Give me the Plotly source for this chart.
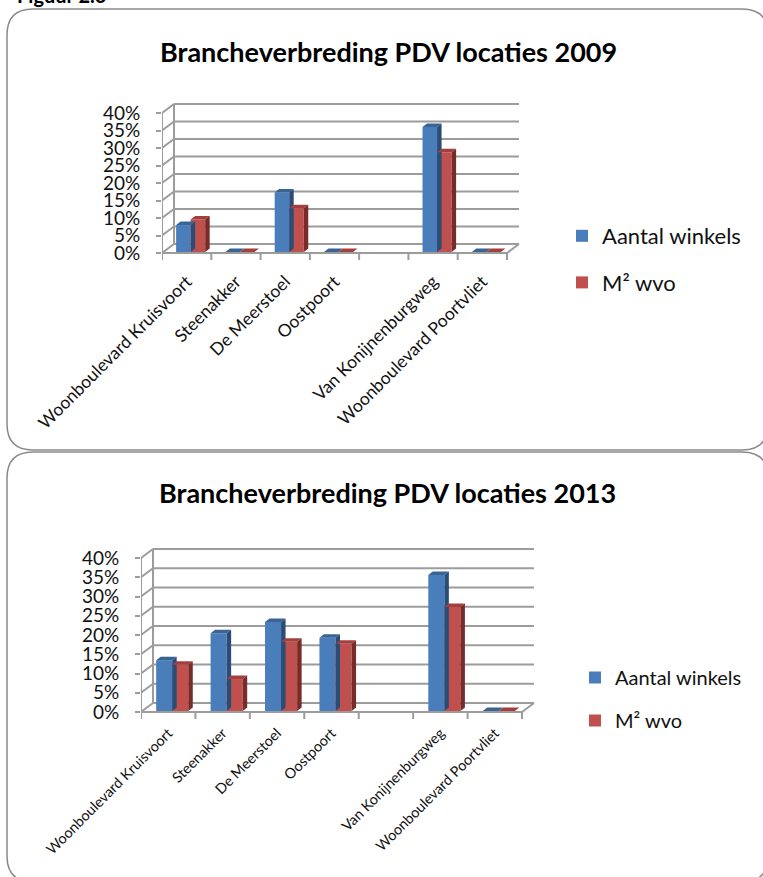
import plotly.graph_objects as go

categories = ["Woonboulevard Kruisvoort", "Steenakker", "De Meerstoel", "Oostpoort", " ",
              "Van Konijnenburgweg", "Woonboulevard Poortvliet"]
yticks = [0, 5, 10, 15, 20, 25, 30, 35, 40]
series_names = ["Aantal winkels", "M² wvo"]
winkels_2009 = [7.7, 0, 17, 0, None, 35.7, 0]
wvo_2009 = [9.3, 0, 12.5, 0, None, 28.5, 0]
winkels_2013 = [13.2, 20.2, 23.1, 19, None, 35.3, 0]
wvo_2013 = [12, 8.3, 18, 17.5, None, 27, 0]
titles = ["Brancheverbreding PDV locaties 2009", "Brancheverbreding PDV locaties 2013"]

W, H = 763, 877
FONT = "Lato"
BLUE, BLUE_D, BLUE_T = "#4a7ebb", "#2a4d78", "#3a6494"
RED, RED_D, RED_T = "#c0504d", "#772c2a", "#a3403d"
GRID = "#9c9c9c"
FRAME = "#8a8a8a"

fig = go.Figure()
shapes, annotations = [], []


def panel(n, data, x0, x1, y0, y40, title, title_y, tick_size, label_size, label_off, legend_name, legend_x,
          legend_y, legend_size, gap):
    sfx = "" if n == 1 else str(n)
    dxp, dyp = 12, 9
    slot = (x1 - x0) / 7
    ppu = (y0 - y40) / 40
    back_dx = dxp / slot
    back_dy = dyp / ppu
    stub = 7 / ppu
    bottom = y0 + 7
    top = y40 - dyp - 1
    right = x1 + dxp + 1
    xr = [0, (right - x0) / slot]
    yr = [-stub, (y0 - top) / ppu]
    fig.update_layout({
        f"xaxis{sfx}": dict(domain=[x0 / W, right / W], range=xr, anchor=f"y{sfx}", showgrid=False, zeroline=False,
                            showline=False, tickmode="array", tickvals=[i + 0.5 for i in range(7)],
                            ticktext=categories, tickangle=-45, ticks="", automargin=False,
                            ticklabelstandoff=label_off,
                            tickfont=dict(family=FONT, size=label_size, color="#111")),
        f"yaxis{sfx}": dict(domain=[1 - bottom / H, 1 - top / H], range=yr, anchor=f"x{sfx}", showgrid=False,
                            zeroline=False, showline=False, tickmode="array", tickvals=yticks,
                            ticktext=[f"{v}%" for v in yticks], automargin=False, ticklabelstandoff=12,
                            ticks="outside", ticklen=5, tickcolor=GRID, tickwidth=2,
                            tickfont=dict(family=FONT, size=tick_size, color="#111")),
    })
    xa, ya = f"x{sfx}", f"y{sfx}"

    def seg(a, b, c, d):
        shapes.append(dict(type="line", xref=xa, yref=ya, x0=a, y0=b, x1=c, y1=d, layer="below",
                           line=dict(color=GRID, width=2)))

    for v in yticks:
        seg(back_dx, v + back_dy, 7 + back_dx, v + back_dy)
        seg(0, v, back_dx, v + back_dy)
    seg(0, 0, 0, 40)
    seg(back_dx, back_dy, back_dx, 40 + back_dy)
    seg(0, 0, 7, 0)
    seg(7, 0, 7 + back_dx, back_dy)
    for i in range(8):
        seg(i, 0, i, -stub)

    bw = 0.295
    shift = 4 / slot
    base = 1 / ppu
    ddx, ddy = 4.5 / slot, 3.5 / ppu
    for k, (vals, c, cd, ct) in enumerate(zip(data, [BLUE, RED], [BLUE_D, RED_D], [BLUE_T, RED_T])):
        xs = [i + 0.5 + shift + (k - 0.5) * bw for i in range(7)]
        fig.add_trace(go.Bar(x=xs, y=vals, base=base, width=bw, marker=dict(color=c, line_width=0),
                             name=series_names[k], xaxis=xa, yaxis=ya, legend=legend_name,
                             legendgroup=f"{n}{k}", hoverinfo="skip"))
        for x, v in zip(xs, vals):
            if v is None:
                continue
            l, r, t = x - bw / 2, x + bw / 2, v + base
            fig.add_trace(go.Scatter(x=[l, r, r + ddx, l + ddx, l], y=[t, t, t + ddy, t + ddy, t], mode="lines",
                                     fill="toself", fillcolor=ct, line=dict(width=0), showlegend=False,
                                     xaxis=xa, yaxis=ya, hoverinfo="skip"))
            if v > 0:
                fig.add_trace(go.Scatter(x=[r, r + ddx, r + ddx, r, r], y=[base, base + ddy, t + ddy, t, base],
                                         mode="lines", fill="toself", fillcolor=cd, line=dict(width=0),
                                         showlegend=False, xaxis=xa, yaxis=ya, hoverinfo="skip"))
    fig.update_layout({legend_name: dict(x=legend_x / W, y=1 - legend_y / H, xanchor="left", yanchor="top",
                                         bgcolor="rgba(0,0,0,0)", tracegroupgap=gap, itemclick=False,
                                         font=dict(family=FONT, size=legend_size, color="#111"))})
    annotations.append(dict(text=f"<b>{title}</b>", xref="paper", yref="paper", x=(388 if n == 1 else 387) / W,
                            y=1 - title_y / H, xanchor="center", yanchor="middle", showarrow=False,
                            font=dict(family=FONT, size=27, color="#000")))


panel(1, [winkels_2009, wvo_2009], 162, 507, 253, 113, titles[0], 51, 19, 17.5, 7, "legend", 562, 215, 22, 15)
panel(2, [winkels_2013, wvo_2013], 141, 522, 712, 558, titles[1], 492, 19, 14.4, 2, "legend2", 575, 658, 20, 14)


def frame(x0, y0, x1, y1, r):
    fx = lambda v: v / W
    fy = lambda v: 1 - v / H
    shapes.append(dict(type="path", xref="paper", yref="paper", layer="below",
                       path=(f"M{fx(x0 + r)},{fy(y0)} L{fx(x1 - r)},{fy(y0)} Q{fx(x1)},{fy(y0)} {fx(x1)},{fy(y0 + r)} "
                             f"L{fx(x1)},{fy(y1 - r)} Q{fx(x1)},{fy(y1)} {fx(x1 - r)},{fy(y1)} "
                             f"L{fx(x0 + r)},{fy(y1)} Q{fx(x0)},{fy(y1)} {fx(x0)},{fy(y1 - r)} "
                             f"L{fx(x0)},{fy(y0 + r)} Q{fx(x0)},{fy(y0)} {fx(x0 + r)},{fy(y0)} Z"),
                       line=dict(color=FRAME, width=1.5), fillcolor="rgba(0,0,0,0)"))


frame(7, 9, 768, 450, 26)
frame(7, 452, 768, 882, 26)
annotations.append(dict(text="<b>Figuur 2.6</b>", xref="paper", yref="paper", x=15 / W, y=1 + 5 / H,
                        xanchor="left", yanchor="middle", showarrow=False,
                        font=dict(family=FONT, size=20, color="#000")))

fig.update_layout(width=W, height=H, autosize=False, margin=dict(l=0, r=0, t=0, b=0, autoexpand=False),
                  barmode="overlay", paper_bgcolor="white", plot_bgcolor="rgba(0,0,0,0)",
                  shapes=shapes, annotations=annotations)
fig.write_html("out.html", config=dict(displayModeBar=False),
               post_script="document.body.style.margin='0';document.body.style.overflow='hidden';")
